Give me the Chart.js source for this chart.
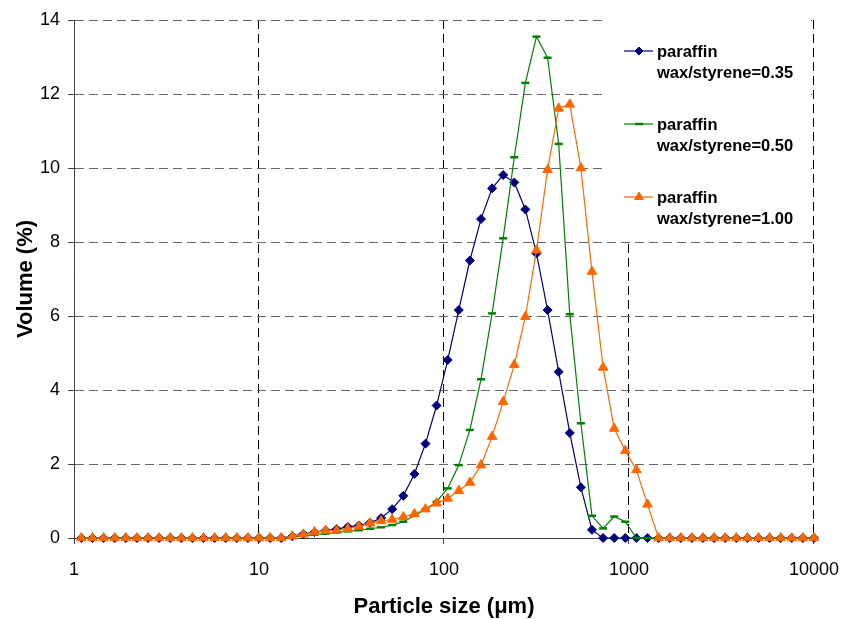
<!DOCTYPE html>
<html>
<head>
<meta charset="utf-8">
<script src="https://cdn.jsdelivr.net/npm/chart.js@4"></script>
<style>
  html, body { margin: 0; padding: 0; background: #fff; }
  canvas { display: block; }
</style>
</head>
<body>
<canvas id="psd" width="854" height="619"></canvas>
<script>
// particle size classes (um), log spaced
const sizes = [1.096, 1.259, 1.445, 1.660, 1.905, 2.188, 2.512, 2.884, 3.311, 3.802, 4.365, 5.012, 5.754, 6.607, 7.586, 8.710,
  10.00, 11.48, 13.18, 15.14, 17.38, 19.95, 22.91, 26.30, 30.20, 34.67, 39.81, 45.71, 52.48, 60.26, 69.18, 79.43, 91.20,
  104.7, 120.2, 138.0, 158.5, 182.0, 208.9, 239.9, 275.4, 316.2, 363.1, 416.9, 478.6, 549.5, 631.0, 724.4, 831.8, 955.0,
  1096, 1259, 1445, 1660, 1905, 2188, 2512, 2884, 3311, 3802, 4365, 5012, 5754, 6607, 7586, 8710, 10000];

const vol035 = [0, 0, 0, 0, 0, 0, 0, 0, 0, 0, 0, 0, 0, 0, 0, 0, 0, 0, 0,
  0.05, 0.11, 0.16, 0.20, 0.24, 0.30, 0.34, 0.41, 0.54, 0.78, 1.14, 1.73, 2.55, 3.58, 4.81, 6.16, 7.50, 8.62, 9.45, 9.81,
  9.61, 8.88, 7.69, 6.16, 4.49, 2.84, 1.37, 0.22,
  0, 0, 0, 0, 0, 0, 0, 0, 0, 0, 0, 0, 0, 0, 0, 0, 0, 0, 0, 0];

const vol050 = [0, 0, 0, 0, 0, 0, 0, 0, 0, 0, 0, 0, 0, 0, 0, 0, 0, 0, 0,
  0.03, 0.06, 0.09, 0.12, 0.15, 0.18, 0.21, 0.25, 0.29, 0.35, 0.44, 0.60, 0.78, 0.98, 1.34, 1.97, 2.92, 4.29, 6.07, 8.10,
  10.29, 12.30, 13.55, 12.98, 10.65, 6.05, 3.10, 0.60, 0.26, 0.58, 0.44,
  0, 0, 0, 0, 0, 0, 0, 0, 0, 0, 0, 0, 0, 0, 0, 0, 0];

const vol100 = [0, 0, 0, 0, 0, 0, 0, 0, 0, 0, 0, 0, 0, 0, 0, 0, 0, 0, 0,
  0.05, 0.10, 0.16, 0.20, 0.21, 0.25, 0.31, 0.40, 0.46, 0.50, 0.57, 0.65, 0.78, 0.94, 1.07, 1.28, 1.50, 1.97, 2.74, 3.68,
  4.68, 5.98, 7.78, 9.95, 11.61, 11.72, 10.00, 7.20, 4.61, 2.96, 2.36, 1.84, 0.91,
  0, 0, 0, 0, 0, 0, 0, 0, 0, 0, 0, 0, 0, 0, 0];

const seriesLabels = ['paraffin wax/styrene=0.35', 'paraffin wax/styrene=0.50', 'paraffin wax/styrene=1.00'];
const xTicks = [1, 10, 100, 1000, 10000];
const yTicks = [0, 2, 4, 6, 8, 10, 12, 14];

const FONT = '"Liberation Sans", Arial, Helvetica, sans-serif';

function pts(vals) {
  return sizes.map((s, i) => ({ x: s, y: vals[i] }));
}

// legend drawn inside the plot, on a white box
const boxLegend = {
  id: 'boxLegend',
  beforeDatasetsDraw(chart) {
    const ctx = chart.ctx;
    ctx.save();
    ctx.fillStyle = '#fff';
    ctx.fillRect(607, 19, 204, 223);
    chart.data.datasets.forEach((ds, i) => {
      const base = 57 + 73 * i;
      const ly = base - 6;
      ctx.strokeStyle = ds.borderColor;
      ctx.lineWidth = 1.2;
      ctx.beginPath();
      ctx.moveTo(624, ly);
      ctx.lineTo(653, ly);
      ctx.stroke();
      ctx.fillStyle = ds.pointBackgroundColor;
      ctx.strokeStyle = ds.pointBorderColor;
      ctx.lineWidth = ds.pointBorderWidth;
      Chart.helpers.drawPoint(ctx, {
        pointStyle: ds.pointStyle,
        radius: ds.legendRadius,
        borderWidth: ds.pointBorderWidth,
        rotation: 0
      }, 639, ly);
      const parts = ds.label.split(' ');
      ctx.fillStyle = '#000';
      ctx.font = 'bold 16.5px ' + FONT;
      ctx.textBaseline = 'alphabetic';
      ctx.textAlign = 'left';
      ctx.fillText(parts[0], 657, base);
      ctx.fillText(parts.slice(1).join(' '), 657, base + 21);
    });
    ctx.restore();
  }
};

new Chart(document.getElementById('psd'), {
  type: 'line',
  data: {
    datasets: [{
      label: seriesLabels[0],
      data: pts(vol035),
      borderColor: '#000080',
      backgroundColor: '#000080',
      pointBackgroundColor: '#000080',
      pointBorderColor: '#000080',
      pointBorderWidth: 1,
      pointStyle: 'rectRot',
      pointRadius: 4.5,
      legendRadius: 4,
      borderWidth: 1.2,
      order: 3
    }, {
      label: seriesLabels[1],
      data: pts(vol050),
      borderColor: '#008000',
      backgroundColor: '#008000',
      pointBackgroundColor: '#008000',
      pointBorderColor: '#008000',
      pointBorderWidth: 2.5,
      pointStyle: 'line',
      pointRadius: 4,
      legendRadius: 4,
      borderWidth: 1.2,
      order: 2
    }, {
      label: seriesLabels[2],
      data: pts(vol100),
      borderColor: '#FF6600',
      backgroundColor: '#FF6600',
      pointBackgroundColor: '#FF6600',
      pointBorderColor: '#FF6600',
      pointBorderWidth: 1,
      pointStyle: 'triangle',
      pointRadius: 5.5,
      legendRadius: 5,
      borderWidth: 1.2,
      order: 1
    }]
  },
  options: {
    responsive: false,
    animation: false,
    devicePixelRatio: 1,
    layout: { padding: { top: 20, right: 37, left: 0, bottom: 0 } },
    elements: { line: { tension: 0 } },
    datasets: { line: { clip: 10 } },
    plugins: {
      legend: { display: false },
      tooltip: { enabled: false }
    },
    scales: {
      x: {
        type: 'logarithmic',
        min: 1,
        max: 10000,
        afterBuildTicks: (scale) => { scale.ticks = xTicks.map(v => ({ value: v })); },
        afterFit: (scale) => { scale.height = 81; },
        ticks: {
          color: '#000',
          font: { family: FONT, size: 18 },
          padding: 15,
          maxRotation: 0,
          autoSkip: false,
          callback: (v) => String(v)
        },
        grid: { color: '#000', lineWidth: 1, tickLength: 6, tickColor: '#404040' },
        border: { color: '#404040', width: 1, dash: [9, 5] },
        title: {
          display: true,
          text: 'Particle size (μm)',
          color: '#000',
          font: { family: FONT, size: 22, weight: 'bold', lineHeight: 1 },
          padding: { top: 0, bottom: 1 }
        }
      },
      y: {
        min: 0,
        max: 14,
        afterBuildTicks: (scale) => { scale.ticks = yTicks.map(v => ({ value: v })); },
        afterFit: (scale) => { scale.width = 74; },
        ticks: {
          color: '#000',
          font: { family: FONT, size: 18 },
          padding: 8
        },
        grid: { color: '#666', lineWidth: 1, tickLength: 6, tickColor: '#404040' },
        border: { color: '#404040', width: 1, dash: [9, 5] },
        title: {
          display: true,
          text: 'Volume (%)',
          color: '#000',
          font: { family: FONT, size: 22, weight: 'bold', lineHeight: 1 },
          padding: { top: 15, bottom: 0 }
        }
      }
    }
  },
  plugins: [boxLegend]
});
</script>
</body>
</html>
